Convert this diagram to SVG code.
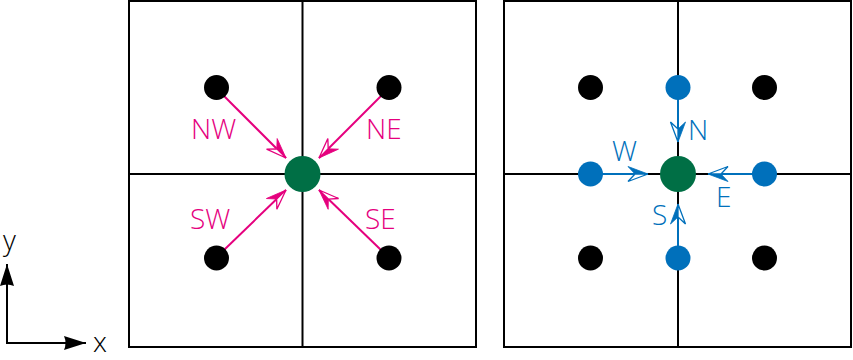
<svg xmlns="http://www.w3.org/2000/svg" width="853" height="360" viewBox="0 0 853 360">
<style>
.frame{fill:none;stroke:#000;stroke-width:2}
.grid{stroke:#000;stroke-width:2}
.pt{fill:#000}
.blue{fill:#0070bb}
.ctr{fill:#006f45}
.mag{stroke:#e5007e;stroke-width:2;fill:none}
.bl{stroke:#0070bb;stroke-width:2;fill:none}
.ax{stroke:#000;stroke-width:2;fill:none}
.lab{font-family:"Open Sans","Liberation Sans",sans-serif;font-weight:300;font-size:28px}
.lm{fill:#e5007e}
.lb{fill:#0070bb}
.lk{fill:#000}
</style>
<defs>
<marker id="hm" viewBox="-22 -10 24 20" markerWidth="24" markerHeight="20" refX="0" refY="0" orient="auto" markerUnits="userSpaceOnUse">
<path d="M0,0 L-20,-7.5 L-13,0 Z" fill="#e5007e" stroke="#e5007e" stroke-width="0.8" stroke-linejoin="round"/>
<path d="M0,0 L-13,0 L-20,7.5 Z" fill="#fff" stroke="#e5007e" stroke-width="1.3" stroke-linejoin="miter"/>
</marker>
<marker id="hb" viewBox="-22 -10 24 20" markerWidth="24" markerHeight="20" refX="0" refY="0" orient="auto" markerUnits="userSpaceOnUse">
<path d="M0,0 L-20,-7.5 L-13,0 Z" fill="#0070bb" stroke="#0070bb" stroke-width="0.8" stroke-linejoin="round"/>
<path d="M0,0 L-13,0 L-20,7.5 Z" fill="#fff" stroke="#0070bb" stroke-width="1.3" stroke-linejoin="miter"/>
</marker>
<marker id="ha" viewBox="-24 -8 26 16" markerWidth="26" markerHeight="16" refX="0" refY="0" orient="auto" markerUnits="userSpaceOnUse">
<path d="M0,0 L-22,-7 Q-19,0 -22,7 Z" fill="#000"/>
</marker>
</defs>
<g id="left-panel">
<rect class="frame" x="129" y="1" width="347" height="346"/>
<line class="grid" x1="302.5" y1="1" x2="302.5" y2="347"/>
<line class="grid" x1="129" y1="174" x2="476" y2="174"/>
</g>
<g id="right-panel">
<rect class="frame" x="504" y="1" width="347" height="346"/>
<line class="grid" x1="678" y1="1" x2="678" y2="347"/>
<line class="grid" x1="504" y1="174" x2="851" y2="174"/>
</g>
<g id="connectors">
<line class="mag" x1="224" y1="96" x2="286" y2="158" marker-end="url(#hm)"/>
<line class="mag" x1="381" y1="96" x2="319" y2="158" marker-end="url(#hm)"/>
<line class="mag" x1="224" y1="250" x2="286" y2="190" marker-end="url(#hm)"/>
<line class="mag" x1="381" y1="250" x2="319" y2="190" marker-end="url(#hm)"/>
<line class="bl" x1="678" y1="98" x2="678" y2="142" marker-end="url(#hb)"/>
<line class="bl" x1="678" y1="248" x2="678" y2="204" marker-end="url(#hb)"/>
<line class="bl" x1="600" y1="174" x2="648" y2="174" marker-end="url(#hb)"/>
<line class="bl" x1="755" y1="174" x2="708" y2="174" marker-end="url(#hb)"/>
<line class="ax" x1="7" y1="344" x2="7" y2="264" marker-end="url(#ha)"/>
<line class="ax" x1="6" y1="343" x2="86" y2="343" marker-end="url(#ha)"/>
</g>
<g id="node-nw"><circle class="pt" cx="216.5" cy="87.5" r="12.5"/></g>
<g id="node-ne"><circle class="pt" cx="389" cy="87.5" r="12.5"/></g>
<g id="node-sw"><circle class="pt" cx="216.5" cy="258" r="12.5"/></g>
<g id="node-se"><circle class="pt" cx="389" cy="258" r="12.5"/></g>
<g id="node-center-left"><circle class="ctr" cx="302.5" cy="174" r="18"/></g>
<g id="node-r-nw"><circle class="pt" cx="590.5" cy="87.5" r="12.5"/></g>
<g id="node-r-ne"><circle class="pt" cx="764.5" cy="87.5" r="12.5"/></g>
<g id="node-r-sw"><circle class="pt" cx="590.5" cy="258" r="12.5"/></g>
<g id="node-r-se"><circle class="pt" cx="764.5" cy="258" r="12.5"/></g>
<g id="node-n"><circle class="blue" cx="678" cy="87.5" r="12.5"/></g>
<g id="node-s"><circle class="blue" cx="678" cy="258" r="12.5"/></g>
<g id="node-w"><circle class="blue" cx="590.5" cy="174" r="12.5"/></g>
<g id="node-e"><circle class="blue" cx="764.5" cy="174" r="12.5"/></g>
<g id="node-center-right"><circle class="ctr" cx="678" cy="174" r="18"/></g>
<g id="labels">
<text class="lab lm" x="191" y="139">NW</text>
<text class="lab lm" x="366" y="139">NE</text>
<text class="lab lm" x="190" y="229">SW</text>
<text class="lab lm" x="365" y="229">SE</text>
<text class="lab lb" x="688" y="140">N</text>
<text class="lab lb" x="612" y="161">W</text>
<text class="lab lb" x="716" y="207">E</text>
<text class="lab lb" x="652" y="225">S</text>
<text class="lab lk" x="3" y="250">y</text>
<text class="lab lk" x="93" y="352">x</text>
</g>
</svg>
